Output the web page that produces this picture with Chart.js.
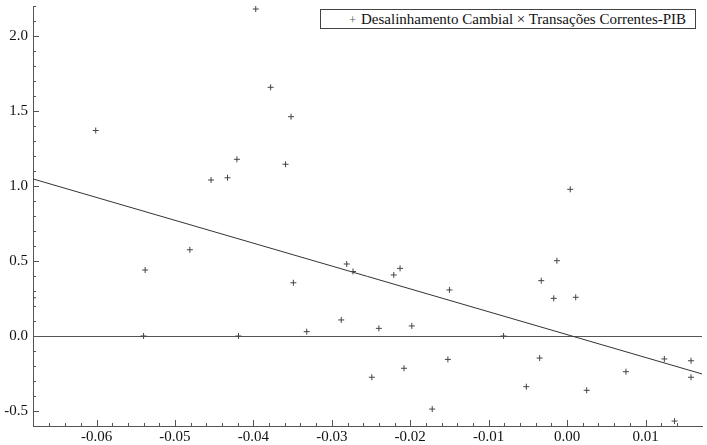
<!DOCTYPE html>
<html>
<head>
<meta charset="utf-8">
<script src="https://cdn.jsdelivr.net/npm/chart.js@4"></script>
<style>
    html, body { margin: 0; padding: 0; background: #fff; overflow: hidden; }
    #wrap { position: relative; width: 707px; height: 445px; }
    #chart { display: block; }
    #legend {
        position: absolute; left: 320px; top: 9px; width: 374px; height: 18px;
        border: 1px solid #444; background: #fff;
        font-family: "Liberation Serif", "Times New Roman", "DejaVu Serif", serif;
        font-size: 15px; color: #111;
        line-height: 18px; white-space: nowrap;
    }
    #legend .mark { display: inline-block; width: 40px; text-align: right; padding-right: 5px; box-sizing: border-box; color: #555; font-size: 12px; }
</style>
</head>
<body>
<div id="wrap">
    <canvas id="chart" width="707" height="445"></canvas>
    <div id="legend"></div>
</div>
<script>
// scatter points
const xVals = [-0.0601, -0.0538, -0.0540, -0.0481, -0.0454, -0.0433, -0.0421, -0.0419, -0.0397, -0.0378,
    -0.0359, -0.0352, -0.0349, -0.0332, -0.0288, -0.0281, -0.0273, -0.0249, -0.0240, -0.0221,
    -0.0213, -0.0208, -0.0198, -0.0172, -0.0152, -0.0150, -0.0081, -0.0052, -0.0035, -0.0033,
    -0.0017, -0.0013, 0.0004, 0.0011, 0.0025, 0.0075, 0.0124, 0.0137, 0.0158, 0.0158, -0.0681];
const yVals = [1.37, 0.44, 0.0, 0.575, 1.04, 1.055, 1.178, 0.0, 2.18, 1.658,
    1.145, 1.462, 0.355, 0.029, 0.107, 0.48, 0.43, -0.275, 0.051, 0.407,
    0.451, -0.215, 0.067, -0.487, -0.156, 0.307, 0.0, -0.338, -0.147, 0.369,
    0.251, 0.502, 0.978, 0.258, -0.362, -0.238, -0.153, -0.567, -0.165, -0.275, 0.255];

// fitted line, end points read at the plot edges
const fitX = [-0.0681, 0.0172];
const fitY = [1.047, -0.253];

const xRange = [-0.0681, 0.0172];
const yRange = [-0.6, 2.2];

const seriesLabel = 'Desalinhamento Cambial × Transações Correntes-PIB';
const serif = "'Liberation Serif', 'Times New Roman', 'DejaVu Serif', serif";

const points = xVals.map((x, i) => ({ x: x, y: yVals[i] }));
const fitLine = fitX.map((x, i) => ({ x: x, y: fitY[i] }));

function nearStep(v, step) {
    const r = v / step;
    return Math.abs(r - Math.round(r)) < 1e-6;
}

// Mathematica style ticks, drawn on the inside of the axes
const insideTicks = {
    id: 'insideTicks',
    afterDraw(chart) {
        const ctx = chart.ctx;
        const xs = chart.scales.x, ys = chart.scales.y;
        const area = chart.chartArea;
        ctx.save();
        ctx.strokeStyle = '#555';
        ctx.lineWidth = 1;
        ctx.beginPath();
        xs.ticks.forEach(t => {
            if (!nearStep(t.value, 0.002)) return;
            const px = Math.round(xs.getPixelForValue(t.value)) + 0.5;
            const len = nearStep(t.value, 0.01) ? 6 : 3;
            ctx.moveTo(px, area.bottom);
            ctx.lineTo(px, area.bottom - len);
        });
        ys.ticks.forEach(t => {
            if (!nearStep(t.value, 0.1)) return;
            const py = Math.round(ys.getPixelForValue(t.value)) + 0.5;
            const len = nearStep(t.value, 0.5) ? 6 : 3;
            ctx.moveTo(area.left, py);
            ctx.lineTo(area.left + len, py);
        });
        ctx.stroke();
        ctx.restore();
    }
};

const ctx = document.getElementById('chart').getContext('2d');
const chart = new Chart(ctx, {
    type: 'scatter',
    data: {
        datasets: [{
            label: seriesLabel,
            data: points,
            pointStyle: 'cross',
            pointRadius: 3,
            pointBorderWidth: 1,
            borderColor: '#444',
            backgroundColor: '#444'
        }, {
            label: 'fit',
            type: 'line',
            data: fitLine,
            showLine: true,
            borderColor: '#333',
            borderWidth: 1,
            pointRadius: 0,
            fill: false
        }]
    },
    options: {
        responsive: false,
        animation: false,
        layout: { padding: { top: 6, right: -6, left: 0, bottom: 0 } },
        plugins: {
            legend: { display: false },
            tooltip: { enabled: false }
        },
        scales: {
            x: {
                type: 'linear',
                min: xRange[0],
                max: xRange[1],
                afterFit: s => { s.height = 19; s.paddingLeft = 0; s.paddingRight = 0; },
                border: { display: true, color: '#555', width: 1 },
                grid: { display: false, drawTicks: false },
                ticks: {
                    stepSize: 0.002,
                    autoSkip: false,
                    maxRotation: 0,
                    padding: 2,
                    color: '#111',
                    font: { family: serif, size: 15 },
                    callback: v => nearStep(v, 0.01) ? v.toFixed(2) : ''
                }
            },
            y: {
                type: 'linear',
                min: yRange[0],
                max: yRange[1],
                afterFit: s => { s.width = 33; s.paddingTop = 0; s.paddingBottom = 0; },
                border: { display: true, color: '#555', width: 1 },
                grid: {
                    drawTicks: false,
                    color: c => (c.tick && Math.abs(c.tick.value) < 1e-9) ? '#555' : 'rgba(0,0,0,0)'
                },
                ticks: {
                    stepSize: 0.1,
                    autoSkip: false,
                    padding: 5,
                    color: '#111',
                    font: { family: serif, size: 15 },
                    callback: v => nearStep(v, 0.5) ? v.toFixed(1) : ''
                }
            }
        }
    },
    plugins: [insideTicks]
});

// boxed legend like the original
const legend = document.getElementById('legend');
legend.innerHTML = '<span class="mark">+</span>' + chart.data.datasets[0].label;
</script>
</body>
</html>
